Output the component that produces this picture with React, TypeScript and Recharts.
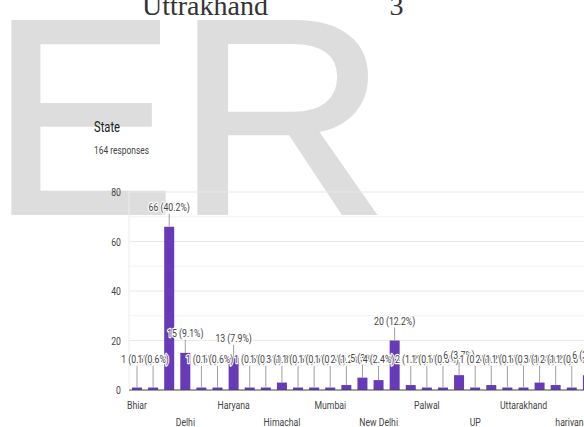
import React from 'react';
import { BarChart, Bar, XAxis, YAxis, CartesianGrid, LabelList } from 'recharts';

const states = [
  'Bhiar', 'Bihar', 'DELHI', 'Delhi', 'Goa', 'Gujarat', 'Haryana', 'Haryana (Gurgaon)', 'Hiryana',
  'Himachal', 'J&K', 'Jharkhand', 'Mumbai', 'NCR', 'NEW DELHI', 'New Delhi', 'New delhi', 'Noida',
  'Palwal', 'Punjab', 'Rajasthan', 'UP', 'Uttar Pradesh', 'Uttarakhad', 'Uttarakhand', 'Uttrakhand',
  'West Bengal', 'harivana', 'haryana',
];
const counts = [1, 1, 66, 15, 1, 1, 13, 1, 1, 3, 1, 1, 1, 2, 5, 4, 20, 2, 1, 1, 6, 1, 2, 1, 1, 3, 2, 1, 6];
const yTicks = [0, 10, 20, 30, 40, 50, 60, 70, 80];
const majorGrid = [20, 40, 60, 80];
const minorGrid = [10, 30, 50, 70];
const title = 'State';
const responsesText = '164 responses';
const docRowLabel = 'Uttrakhand';
const docRowValue = '3';
const watermarkE = 'E';
const watermarkR = 'R';

const total = counts.reduce((a, b) => a + b, 0);
const data = states.map((s, i) => {
  const pct = Math.round((counts[i] / total) * 1000) / 10;
  return { state: s, count: counts[i], label: `${counts[i]} (${pct}%)` };
});

const FONT = 'Roboto, "Noto Sans", sans-serif';
const SX = 0.79;

const XTick = (props: any) => {
  const { x, y, payload } = props;
  const i = payload && typeof payload.index === 'number' ? payload.index : props.index;
  if (i % 3 !== 0) return <g />;
  const row = (i / 3) % 2;
  const by = Number(y) + (row === 0 ? 19 : 36);
  return (
    <text
      transform={`translate(${x},${by}) scale(${SX},1)`}
      textAnchor="middle"
      fontFamily={FONT}
      fontSize={11}
      fill="#444"
    >
      {payload.value}
    </text>
  );
};

const YTick = (props: any) => {
  const { x, y, payload } = props;
  if (payload.value % 20 !== 0) return <g />;
  return (
    <text
      transform={`translate(${x},${Number(y) + 4}) scale(${SX},1)`}
      textAnchor="end"
      fontFamily={FONT}
      fontSize={11}
      fill="#444"
    >
      {payload.value}
    </text>
  );
};

const renderLabel = (props: any) => {
  const vb = props.viewBox && typeof props.viewBox.x === 'number' ? props.viewBox : props;
  const x = Number(vb.x);
  const y = Number(vb.y);
  const w = Number(vb.width);
  const h = Number(vb.height);
  const top = h >= 0 ? y : y + h;
  const cx = x + w / 2;
  const base = Math.min(top - 16, 363);
  return (
    <g>
      <line x1={cx} x2={cx} y1={base + 3} y2={top} stroke="#a0a0a0" strokeWidth={1} />
      <text
        transform={`translate(${cx},${base}) scale(${SX},1)`}
        textAnchor="middle"
        fontFamily={FONT}
        fontSize={11}
        fill="#444"
        stroke="#ffffff"
        strokeWidth={2.5}
        strokeLinejoin="round"
        style={{ paintOrder: 'stroke' }}
      >
        {props.value}
      </text>
    </g>
  );
};

const WM_FONT = '"Liberation Sans", Arial, sans-serif';

export default function App() {
  return (
    <div
      style={{
        position: 'absolute',
        left: 0,
        top: 0,
        width: 584,
        height: 427,
        overflow: 'hidden',
        background: '#ffffff',
      }}
    >
      <svg width={584} height={427} style={{ position: 'absolute', left: 0, top: 0 }}>
        <text
          x={-10}
          y={213.5}
          fontFamily={WM_FONT}
          fontSize={279}
          fill="#dddddd"
          stroke="#dddddd"
          strokeWidth={3}
        >
          {watermarkE}
        </text>
        <text
          x={176}
          y={213.5}
          transform="translate(198,0) scale(1.06,1) translate(-198,0)"
          fontFamily={WM_FONT}
          fontSize={279}
          fill="#dddddd"
          stroke="#dddddd"
          strokeWidth={3}
        >
          {watermarkR}
        </text>
        <text x={142} y={15} fontFamily='"Liberation Serif", "Times New Roman", serif' fontSize={28} fill="#333">
          {docRowLabel}
        </text>
        <text x={389.5} y={15} fontFamily='"Liberation Serif", "Times New Roman", serif' fontSize={28} fill="#333">
          {docRowValue}
        </text>
        <text transform={`translate(94,132) scale(0.8,1)`} fontFamily={FONT} fontSize={14} fill="#212121">
          {title}
        </text>
        <text transform={`translate(94,153.5) scale(0.8,1)`} fontFamily={FONT} fontSize={10.5} fill="#444">
          {responsesText}
        </text>
      </svg>
      <div style={{ position: 'absolute', left: 0, top: 0 }}>
        <BarChart
          width={596}
          height={427}
          data={data}
          margin={{ top: 192, right: 0, bottom: 0, left: 0 }}
          barSize={10}
        >
          <CartesianGrid vertical={false} horizontalValues={minorGrid} stroke="#f3f3f3" />
          <CartesianGrid vertical={false} horizontalValues={majorGrid} stroke="#e8e8e8" />
          <XAxis
            dataKey="state"
            height={37}
            interval={0}
            tickSize={0}
            tickMargin={0}
            tickLine={false}
            axisLine={{ stroke: '#444', strokeWidth: 1 }}
            tick={<XTick />}
          />
          <YAxis
            type="number"
            domain={[0, 80]}
            ticks={yTicks}
            interval={0}
            width={129}
            tickSize={0}
            tickMargin={8}
            tickLine={false}
            axisLine={{ stroke: '#ececec' }}
            tick={<YTick />}
          />
          <Bar dataKey="count" fill="#673ab7" isAnimationActive={false}>
            <LabelList dataKey="label" content={renderLabel} />
          </Bar>
        </BarChart>
      </div>
    </div>
  );
}
